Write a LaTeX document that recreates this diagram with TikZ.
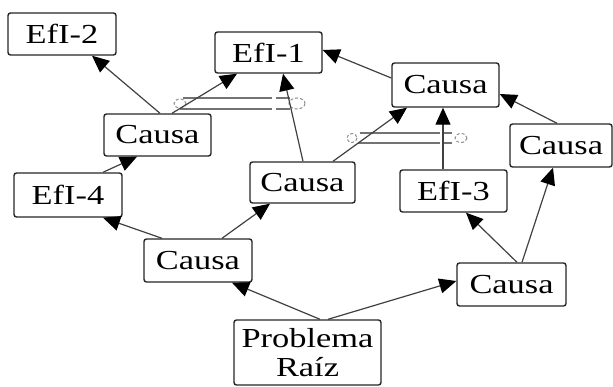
\documentclass[tikz,border=0pt]{standalone}
\usepackage{fontspec}
\newfontfamily\boxfont[FakeStretch=1.25]{Liberation Serif}
\usetikzlibrary{arrows.meta,calc}
\begin{document}
\begin{tikzpicture}[x=1pt,y=-1pt,
  box/.style={draw=black!85,line width=1.4pt,rounded corners=2.5pt,fill=white,
    inner sep=0pt,align=center,font=\boxfont\fontsize{27.5}{29}\selectfont},
  conn/.style={draw=black!75,line width=1.2pt,-{Triangle[length=17pt,width=15pt,color=black]}},
  rel/.style={draw=black!55,line width=2pt},
  relend/.style={draw=black!45,line width=1pt,densely dashed}]
\useasboundingbox (0,0) rectangle (613,386);
\node[box,minimum width=108pt,minimum height=42pt] (e2) at (62,34) {EfI-2};
\node[box,minimum width=107pt,minimum height=41pt] (e1) at (268.5,52.5) {EfI-1};
\node[box,minimum width=107pt,minimum height=42pt] (cul) at (157.5,135) {Causa};
\node[box,minimum width=105pt,minimum height=41pt] (cc) at (302.5,182.5) {Causa};
\node[box,minimum width=107pt,minimum height=44pt] (cur) at (445.5,85) {Causa};
\node[box,minimum width=102pt,minimum height=43pt] (cr) at (561,145.5) {Causa};
\node[box,minimum width=107pt,minimum height=42pt] (e3) at (453.5,191) {EfI-3};
\node[box,minimum width=108pt,minimum height=44pt] (e4) at (68,195) {EfI-4};
\node[box,minimum width=108pt,minimum height=43pt] (cll) at (198,260.5) {Causa};
\node[box,minimum width=109pt,minimum height=43pt] (clr) at (511.5,284.5) {Causa};
\node[box,minimum width=147pt,minimum height=65pt] (pr) at (307.5,352.5) {Problema\\Raíz};
% relation symbols
\draw[rel] (183,98) -- (272,98) (276,98) -- (290,98);
\draw[rel] (180,109) -- (272,109) (276,109) -- (290,109);
\draw[relend] (297,103.5) ellipse (8 and 5.5);
\draw[relend] (180,103.5) ellipse (6 and 4.5);
\draw[rel] (360,133) -- (440,133) (444,133) -- (452,133);
\draw[rel] (358,143) -- (440,143) (444,143) -- (452,143);
\draw[relend] (461,138) ellipse (6 and 4.5);
\draw[relend] (352,138) ellipse (5 and 4.5);
% connectors
\draw[conn] ($(cul.north)+(2.5,0)$) -- ($(e2.south)+(30,0)$);
\draw[conn] ($(cul.north)+(14.5,0)$) -- ($(e1.south)+(-31.5,0)$);
\draw[conn] ($(cc.north)+(0.5,0)$) -- ($(e1.south)+(14.5,0)$);
\draw[conn] ($(cur.west)+(0,-7)$) -- ($(e1.east)+(0,-2.5)$);
\draw[conn] ($(cc.north)+(30.5,0)$) -- ($(cur.south)+(-38.5,0)$);
\draw[conn] ($(e3.north)+(-10.5,0)$) -- ($(cur.south)+(-2.5,0)$);
\draw[conn] ($(cr.north)+(-4,0)$) -- ($(cur.east)+(0,9)$);
\draw[conn] ($(cll.north)+(-36,0)$) -- ($(e4.south)+(35,0)$);
\draw[conn] ($(cll.north)+(24,0)$) -- ($(cc.south)+(-32.5,0)$);
\draw[conn] ($(e4.north)+(35,0)$) -- ($(cul.south)+(-20.5,0)$);
\draw[conn] ($(pr.north)+(12.5,0)$) -- ($(cll.south)+(34,0)$);
\draw[conn] ($(pr.north)+(20.5,0)$) -- ($(clr.west)+(0,-3.5)$);
\draw[conn] ($(clr.north)+(5.5,0)$) -- ($(e3.south)+(12.5,0)$);
\draw[conn] ($(clr.north)+(10.5,0)$) -- ($(cr.south)+(-8,0)$);
\end{tikzpicture}
\end{document}
